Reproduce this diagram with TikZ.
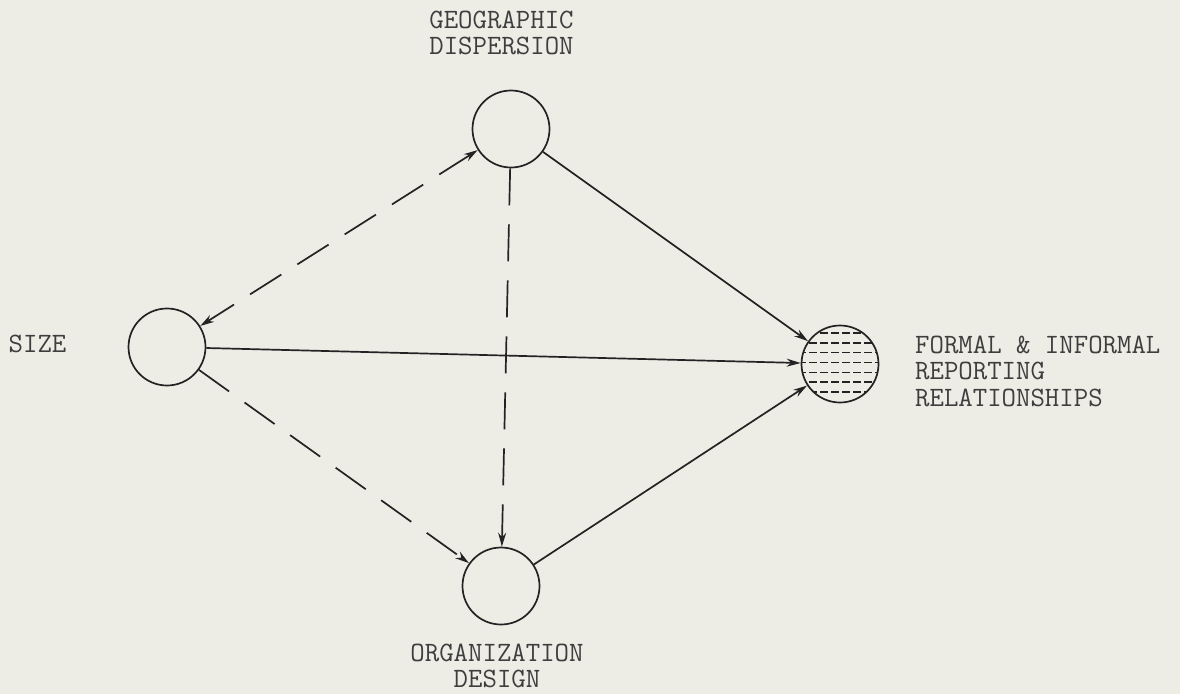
\documentclass[tikz,border=0pt]{standalone}
\usetikzlibrary{positioning,arrows.meta}
\definecolor{paper}{RGB}{237,237,230}
\definecolor{ink}{RGB}{35,35,35}
\definecolor{type}{RGB}{62,62,62}

\begin{document}
\begin{tikzpicture}[x=1pt,y=-1pt,>={Stealth[length=14pt,width=8pt]},
  factor/.style={draw=ink,line width=1.7pt,circle,minimum size=77pt,inner sep=0pt},
  tag/.style={text=type,font=\fontsize{28}{26.5}\selectfont\ttfamily,inner sep=0pt,align=center},
  link/.style={->,draw=ink,line width=1.7pt},
  maybe/.style={link,dash pattern=on 37pt off 19pt}]
  \fill[paper] (0,0) rectangle (1180,694);
  % factors
  \node[factor] (geo)  at (511,129) {};
  \node[factor] (size) at (167,347) {};
  \node[factor] (org)  at (501,586) {};
  \node[factor] (rep)  at (840,364) {};
  % hatching of the outcome
  \begin{scope}
    \clip (840,364) circle (38);
    \foreach \dy in {-31,-21.2,...,29}
      \draw[ink,line width=1.4pt,dash pattern=on 8pt off 3pt] (798,364+\dy) -- (882,364+\dy);
  \end{scope}
  % labels
  \node[tag] (geolbl)  at (501.5,33) {GEOGRAPHIC\\DISPERSION};
  \node[tag] (sizelbl) at (37.5,343.5) {SIZE};
  \node[tag] (orglbl)  at (497,666) {ORGANIZATION\\DESIGN};
  \node[tag,align=left,anchor=west] (replbl) at (915,371)
    {FORMAL \& INFORMAL\\REPORTING\\RELATIONSHIPS};
  % links
  \draw[maybe,<->] (geo) -- (size);
  \draw[maybe] (geo) -- (org);
  \draw[maybe] (size) -- (org);
  \draw[link] (geo) -- (rep);
  \draw[link] (size) -- (rep);
  \draw[link] (org) -- (rep);
\end{tikzpicture}
\end{document}
